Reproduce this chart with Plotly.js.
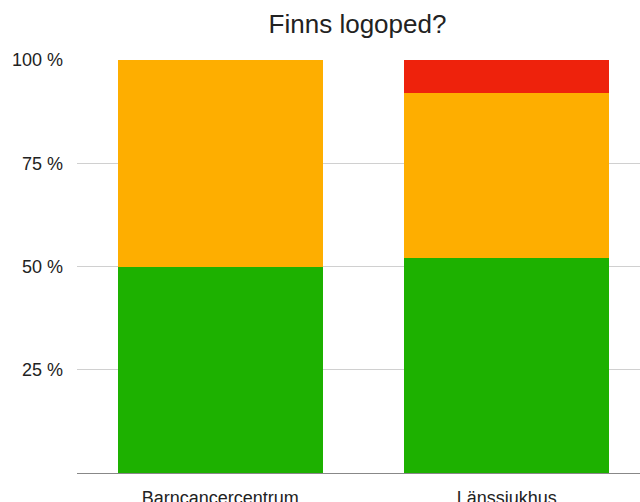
<!DOCTYPE html>
<html>
<head>
<meta charset="utf-8">
<script src="https://cdn.plot.ly/plotly-3.0.1.min.js"></script>
<style>
html,body{margin:0;padding:0;overflow:hidden;background:#fff;}
#chart{width:650px;height:502px;}
</style>
</head>
<body>
<div id="chart"></div>
<script>
const categories = ["Barncancercentrum", "Länssjukhus"];
const greenValues = [50, 52];
const orangeValues = [50, 40];
const redValues = [0, 8];
const yTickVals = [25, 50, 75, 100];
const yTickText = ["25 %", "50 %", "75 %", "100 %"];

const font = "Liberation Sans, Arial, Helvetica, sans-serif";
const traces = [
  {type: "bar", x: categories, y: greenValues, marker: {color: "#1db100"}, name: "Ja"},
  {type: "bar", x: categories, y: orangeValues, marker: {color: "#feae00"}, name: "Delvis"},
  {type: "bar", x: categories, y: redValues, marker: {color: "#ee220c"}, name: "Nej"}
];
const layout = {
  width: 650, height: 502,
  margin: {l: 77, r: 0, t: 60, b: 29},
  barmode: "stack",
  bargap: 0.283,
  showlegend: false,
  paper_bgcolor: "#fff", plot_bgcolor: "#fff",
  font: {family: font, color: "#222", size: 18},
  title: {text: "Finns logoped?", font: {family: font, size: 26, color: "#222"}, x: 0.55, xref: "container", xanchor: "center", y: 24, yref: "container", yanchor: "middle"},
  xaxis: {showline: true, linecolor: "#888", linewidth: 1, showgrid: false, ticks: "", ticklabelstandoff: 8, tickfont: {size: 18, color: "#222"}, fixedrange: true},
  yaxis: {range: [0, 100], tickvals: yTickVals, ticktext: yTickText, showgrid: true, gridcolor: "#d0d0d0", gridwidth: 1, zeroline: false, showline: false, ticks: "", ticklabelstandoff: 13, tickfont: {size: 18, color: "#222"}, fixedrange: true}
};
layout.title.y = 1 - 24 / 502;
Plotly.newPlot("chart", traces, layout, {displayModeBar: false, staticPlot: true});
</script>
</body>
</html>
